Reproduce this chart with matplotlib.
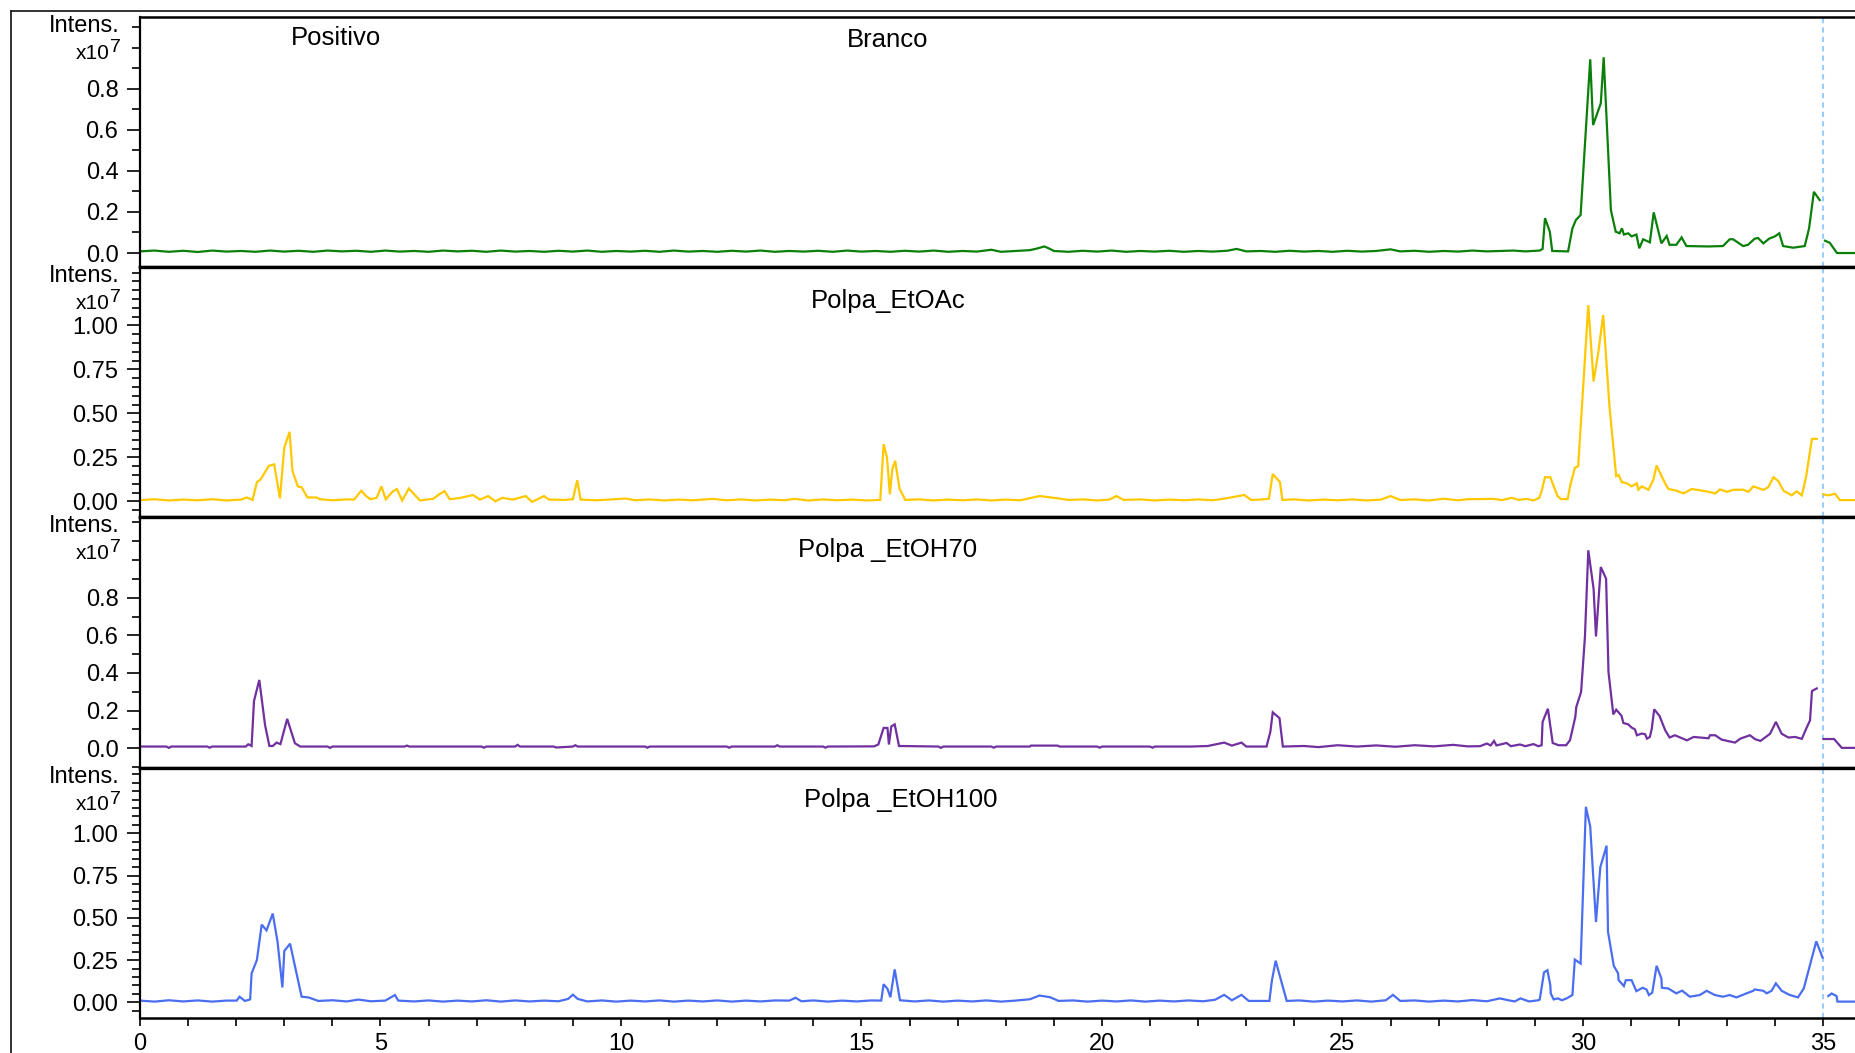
import matplotlib
matplotlib.use('Agg')
import matplotlib.pyplot as plt
import numpy as np
from matplotlib.ticker import FixedLocator, MultipleLocator
from matplotlib.lines import Line2D

plt.rcParams['font.family'] = ['Liberation Sans', 'DejaVu Sans']

nan = np.nan

# (time [min], intensity [x1e7])
branco_pts = [
    (0.0, 0.008), (0.3, 0.012), (0.6, 0.006), (0.9, 0.011), (1.2, 0.005), (1.5, 0.012),
    (1.8, 0.007), (2.1, 0.010), (2.4, 0.006), (2.7, 0.012), (3.0, 0.007), (3.3, 0.011),
    (3.6, 0.006), (3.9, 0.012), (4.2, 0.008), (4.5, 0.011), (4.8, 0.006), (5.1, 0.012),
    (5.4, 0.007), (5.7, 0.010), (6.0, 0.006), (6.3, 0.012), (6.6, 0.008), (6.9, 0.011),
    (7.2, 0.006), (7.5, 0.012), (7.8, 0.007), (8.1, 0.010), (8.4, 0.006), (8.7, 0.011),
    (9.0, 0.007), (9.3, 0.012), (9.6, 0.006), (9.9, 0.010), (10.2, 0.007), (10.5, 0.011),
    (10.8, 0.006), (11.1, 0.012), (11.4, 0.007), (11.7, 0.010), (12.0, 0.006), (12.3, 0.011),
    (12.6, 0.007), (12.9, 0.012), (13.2, 0.006), (13.5, 0.010), (13.8, 0.007), (14.1, 0.011),
    (14.4, 0.006), (14.7, 0.012), (15.0, 0.007), (15.3, 0.010), (15.6, 0.006), (15.9, 0.011),
    (16.2, 0.007), (16.5, 0.012), (16.8, 0.006), (17.1, 0.010), (17.4, 0.007), (17.7, 0.016),
    (17.9, 0.006), (18.2, 0.010), (18.5, 0.014), (18.65, 0.022), (18.8, 0.032), (18.9, 0.022),
    (19.0, 0.010), (19.3, 0.006), (19.6, 0.011), (19.9, 0.007), (20.2, 0.012), (20.5, 0.006),
    (20.8, 0.010), (21.1, 0.007), (21.4, 0.011), (21.7, 0.006), (22.0, 0.010), (22.3, 0.007),
    (22.6, 0.011), (22.8, 0.020), (23.0, 0.008), (23.3, 0.010), (23.6, 0.006), (23.9, 0.011),
    (24.2, 0.007), (24.5, 0.010), (24.8, 0.006), (25.1, 0.011), (25.4, 0.007), (25.7, 0.010),
    (26.0, 0.018), (26.2, 0.008), (26.5, 0.011), (26.8, 0.006), (27.1, 0.010), (27.4, 0.007),
    (27.7, 0.012), (28.0, 0.008), (28.27, 0.010), (28.55, 0.012), (28.8, 0.008), (29.10, 0.012),
    (29.16, 0.020), (29.21, 0.170), (29.31, 0.104), (29.36, 0.010), (29.69, 0.008), (29.78, 0.120),
    (29.85, 0.160), (29.95, 0.185), (30.15, 0.943), (30.21, 0.623), (30.37, 0.729), (30.43, 0.953),
    (30.58, 0.209), (30.68, 0.104), (30.76, 0.096), (30.81, 0.120), (30.85, 0.090), (30.94, 0.096),
    (31.01, 0.081), (31.11, 0.090), (31.17, 0.023), (31.25, 0.067), (31.39, 0.052), (31.47, 0.198),
    (31.56, 0.112), (31.63, 0.047), (31.74, 0.083), (31.80, 0.040), (31.94, 0.040), (32.05, 0.076),
    (32.15, 0.034), (32.60, 0.032), (32.91, 0.034), (33.05, 0.067), (33.12, 0.067), (33.33, 0.034),
    (33.43, 0.040), (33.57, 0.070), (33.64, 0.073), (33.75, 0.047), (33.87, 0.070), (33.99, 0.081),
    (34.08, 0.096), (34.16, 0.034), (34.37, 0.026), (34.61, 0.034), (34.70, 0.120), (34.80, 0.298),
    (34.92, 0.258), (nan, nan), (35.03, 0.060), (35.13, 0.050), (35.28, 0.000), (36.0, 0.000),
]

etoac_pts = [
    (0.0, 0.007), (0.3, 0.012), (0.6, 0.005), (0.9, 0.010), (1.2, 0.006), (1.5, 0.012),
    (1.8, 0.005), (2.1, 0.010), (2.22, 0.022), (2.34, 0.008), (2.43, 0.108), (2.51, 0.126),
    (2.68, 0.202), (2.79, 0.210), (2.91, 0.017), (3.00, 0.306), (3.11, 0.395), (3.17, 0.173),
    (3.28, 0.085), (3.36, 0.080), (3.48, 0.022), (3.67, 0.022), (3.74, 0.012), (4.0, 0.006),
    (4.3, 0.011), (4.45, 0.010), (4.60, 0.060), (4.70, 0.030), (4.79, 0.012), (4.92, 0.020),
    (5.02, 0.085), (5.11, 0.012), (5.25, 0.055), (5.34, 0.070), (5.45, 0.005), (5.59, 0.073),
    (5.82, 0.005), (6.10, 0.015), (6.22, 0.040), (6.33, 0.058), (6.44, 0.012), (6.67, 0.020),
    (6.92, 0.036), (7.07, 0.010), (7.24, 0.030), (7.39, 0.000), (7.53, 0.020), (7.75, 0.010),
    (8.02, 0.030), (8.15, -0.003), (8.40, 0.030), (8.50, 0.010), (8.8, 0.008), (9.0, 0.012),
    (9.09, 0.120), (9.16, 0.010), (9.5, 0.006), (9.8, 0.011), (10.1, 0.016), (10.3, 0.006),
    (10.6, 0.011), (10.9, 0.005), (11.2, 0.010), (11.5, 0.006), (11.9, 0.014), (12.2, 0.006),
    (12.5, 0.011), (12.8, 0.005), (13.1, 0.010), (13.4, 0.006), (13.6, 0.014), (13.9, 0.005),
    (14.2, 0.011), (14.5, 0.006), (14.8, 0.010), (15.1, 0.005), (15.39, 0.008), (15.46, 0.325),
    (15.53, 0.249), (15.59, 0.040), (15.64, 0.183), (15.70, 0.230), (15.79, 0.073), (15.91, 0.008),
    (16.2, 0.011), (16.5, 0.005), (16.8, 0.010), (17.1, 0.006), (17.4, 0.011), (17.7, 0.005),
    (18.0, 0.010), (18.3, 0.006), (18.5, 0.018), (18.7, 0.030), (19.0, 0.020), (19.3, 0.008),
    (19.6, 0.011), (19.9, 0.005), (20.15, 0.010), (20.3, 0.030), (20.45, 0.008), (20.8, 0.011),
    (21.1, 0.005), (21.4, 0.010), (21.7, 0.006), (22.0, 0.011), (22.3, 0.006), (22.6, 0.018),
    (22.96, 0.036), (23.1, 0.008), (23.3, 0.010), (23.47, 0.015), (23.55, 0.155), (23.70, 0.109),
    (23.75, 0.008), (24.0, 0.011), (24.3, 0.005), (24.6, 0.010), (24.9, 0.006), (25.2, 0.011),
    (25.5, 0.005), (25.8, 0.010), (26.0, 0.030), (26.2, 0.008), (26.5, 0.011), (26.8, 0.005),
    (27.1, 0.015), (27.4, 0.006), (27.6, 0.012), (27.86, 0.013), (28.14, 0.014), (28.31, 0.007),
    (28.52, 0.020), (28.66, 0.008), (28.83, 0.014), (28.97, 0.005), (29.09, 0.020), (29.14, 0.058),
    (29.21, 0.137), (29.32, 0.137), (29.47, 0.030), (29.54, 0.013), (29.68, 0.013), (29.74, 0.096),
    (29.83, 0.190), (29.90, 0.200), (30.11, 1.115), (30.22, 0.681), (30.32, 0.851), (30.42, 1.059),
    (30.55, 0.540), (30.69, 0.143), (30.74, 0.150), (30.81, 0.108), (30.91, 0.103), (31.01, 0.085),
    (31.12, 0.103), (31.15, 0.066), (31.22, 0.085), (31.36, 0.066), (31.46, 0.120), (31.53, 0.204),
    (31.64, 0.140), (31.74, 0.085), (31.78, 0.070), (31.95, 0.060), (32.09, 0.045), (32.26, 0.070),
    (32.43, 0.063), (32.61, 0.054), (32.75, 0.045), (32.85, 0.068), (32.99, 0.054), (33.13, 0.066),
    (33.33, 0.066), (33.44, 0.054), (33.54, 0.085), (33.75, 0.065), (33.85, 0.080), (33.96, 0.137),
    (34.06, 0.115), (34.17, 0.060), (34.34, 0.034), (34.44, 0.057), (34.55, 0.034), (34.64, 0.143),
    (34.76, 0.355), (34.86, 0.355), (nan, nan), (35.0, 0.040), (35.1, 0.034), (35.24, 0.043),
    (35.34, 0.007), (36.0, 0.007),
]

etoh70_pts = [
    (0.0, 0.009), (0.55, 0.009), (0.6, 0.002), (0.65, 0.009), (1.4, 0.009), (1.45, 0.003),
    (1.5, 0.009), (2.2, 0.009), (2.25, 0.021), (2.32, 0.012), (2.37, 0.251), (2.48, 0.363),
    (2.60, 0.123), (2.69, 0.012), (2.76, 0.012), (2.84, 0.030), (2.92, 0.022), (3.06, 0.156),
    (3.22, 0.027), (3.33, 0.009), (3.9, 0.009), (3.95, 0.002), (4.0, 0.009), (5.5, 0.009),
    (5.55, 0.014), (5.6, 0.009), (7.1, 0.009), (7.15, 0.003), (7.2, 0.009), (7.8, 0.009),
    (7.85, 0.018), (7.9, 0.009), (8.6, 0.009), (8.65, 0.004), (9.0, 0.009), (9.05, 0.016),
    (9.1, 0.009), (10.5, 0.009), (10.55, 0.003), (10.6, 0.009), (12.2, 0.009), (12.25, 0.003),
    (12.3, 0.009), (13.2, 0.009), (13.25, 0.016), (13.3, 0.009), (14.2, 0.009), (14.25, 0.003),
    (14.3, 0.009), (15.26, 0.010), (15.35, 0.020), (15.46, 0.108), (15.54, 0.108), (15.57, 0.020),
    (15.62, 0.116), (15.69, 0.127), (15.78, 0.012), (16.6, 0.009), (16.65, 0.002), (16.7, 0.009),
    (17.7, 0.009), (17.75, 0.003), (17.8, 0.009), (18.50, 0.009), (18.52, 0.014), (19.08, 0.014),
    (19.12, 0.009), (19.9, 0.009), (19.95, 0.003), (20.0, 0.009), (21.0, 0.009), (21.05, 0.003),
    (21.1, 0.009), (21.86, 0.009), (22.2, 0.012), (22.54, 0.030), (22.7, 0.014), (22.90, 0.030),
    (23.0, 0.009), (23.42, 0.009), (23.50, 0.087), (23.55, 0.191), (23.69, 0.160), (23.76, 0.009),
    (24.2, 0.012), (24.5, 0.006), (24.9, 0.016), (25.3, 0.009), (25.7, 0.015), (26.1, 0.008),
    (26.5, 0.016), (26.9, 0.010), (27.3, 0.018), (27.6, 0.010), (27.86, 0.011), (28.0, 0.025),
    (28.08, 0.015), (28.15, 0.039), (28.2, 0.015), (28.41, 0.028), (28.5, 0.011), (28.69, 0.020),
    (28.8, 0.011), (28.97, 0.022), (29.07, 0.011), (29.14, 0.016), (29.16, 0.140), (29.27, 0.210),
    (29.37, 0.028), (29.49, 0.016), (29.65, 0.016), (29.73, 0.043), (29.77, 0.087), (29.84, 0.166),
    (29.86, 0.219), (29.96, 0.299), (30.04, 0.591), (30.11, 1.052), (30.22, 0.848), (30.27, 0.594),
    (30.37, 0.963), (30.48, 0.901), (30.53, 0.405), (30.63, 0.180), (30.69, 0.205), (30.80, 0.173),
    (30.84, 0.134), (30.94, 0.127), (31.01, 0.110), (31.08, 0.100), (31.12, 0.069), (31.22, 0.078),
    (31.29, 0.075), (31.33, 0.051), (31.39, 0.060), (31.43, 0.104), (31.48, 0.207), (31.59, 0.172),
    (31.71, 0.095), (31.80, 0.057), (31.91, 0.069), (32.16, 0.042), (32.30, 0.060), (32.43, 0.057),
    (32.61, 0.053), (32.64, 0.069), (32.75, 0.069), (32.88, 0.046), (33.16, 0.030), (33.27, 0.051),
    (33.47, 0.069), (33.58, 0.048), (33.69, 0.039), (33.89, 0.077), (34.01, 0.140), (34.13, 0.077),
    (34.27, 0.057), (34.41, 0.060), (34.55, 0.050), (34.64, 0.104), (34.72, 0.148), (34.76, 0.304),
    (34.86, 0.318), (nan, nan), (35.0, 0.049), (35.22, 0.049), (35.38, 0.002), (36.0, 0.002),
]

etoh100_pts = [
    (0.0, 0.010), (0.3, 0.004), (0.6, 0.012), (0.9, 0.005), (1.2, 0.011), (1.5, 0.004),
    (1.8, 0.010), (2.01, 0.010), (2.07, 0.033), (2.18, 0.008), (2.29, 0.017), (2.32, 0.171),
    (2.43, 0.250), (2.53, 0.460), (2.63, 0.426), (2.76, 0.525), (2.86, 0.357), (2.96, 0.088),
    (3.00, 0.304), (3.12, 0.347), (3.36, 0.033), (3.50, 0.029), (3.71, 0.008), (4.0, 0.012),
    (4.3, 0.005), (4.54, 0.016), (4.8, 0.006), (5.1, 0.010), (5.30, 0.043), (5.37, 0.010),
    (5.7, 0.005), (6.0, 0.011), (6.3, 0.004), (6.6, 0.010), (6.9, 0.005), (7.2, 0.012),
    (7.5, 0.004), (7.8, 0.011), (8.1, 0.005), (8.4, 0.010), (8.7, 0.006), (8.9, 0.020),
    (9.0, 0.045), (9.1, 0.020), (9.3, 0.005), (9.6, 0.011), (9.9, 0.004), (10.2, 0.010),
    (10.5, 0.005), (10.8, 0.011), (11.1, 0.004), (11.4, 0.010), (11.7, 0.005), (12.0, 0.011),
    (12.3, 0.004), (12.6, 0.010), (12.9, 0.005), (13.2, 0.011), (13.5, 0.010), (13.63, 0.027),
    (13.75, 0.006), (14.0, 0.011), (14.3, 0.004), (14.6, 0.010), (14.9, 0.005), (15.2, 0.011),
    (15.41, 0.010), (15.46, 0.107), (15.54, 0.080), (15.60, 0.030), (15.69, 0.195), (15.80, 0.012),
    (16.1, 0.005), (16.4, 0.011), (16.7, 0.004), (17.0, 0.010), (17.3, 0.005), (17.6, 0.011),
    (17.9, 0.004), (18.2, 0.010), (18.5, 0.018), (18.7, 0.040), (18.92, 0.030), (19.1, 0.008),
    (19.4, 0.011), (19.7, 0.004), (20.0, 0.010), (20.3, 0.005), (20.6, 0.011), (20.9, 0.004),
    (21.2, 0.010), (21.5, 0.005), (21.8, 0.011), (22.1, 0.006), (22.35, 0.015), (22.54, 0.044),
    (22.70, 0.012), (22.90, 0.044), (23.05, 0.008), (23.48, 0.008), (23.53, 0.125), (23.61, 0.246),
    (23.84, 0.008), (24.1, 0.011), (24.4, 0.004), (24.7, 0.010), (25.0, 0.005), (25.3, 0.011),
    (25.6, 0.004), (25.9, 0.012), (26.05, 0.044), (26.2, 0.008), (26.5, 0.011), (26.8, 0.004),
    (27.1, 0.010), (27.4, 0.005), (27.7, 0.013), (28.0, 0.006), (28.27, 0.023), (28.45, 0.012),
    (28.58, 0.005), (28.7, 0.023), (28.88, 0.005), (29.07, 0.012), (29.10, 0.016), (29.19, 0.177),
    (29.26, 0.190), (29.32, 0.102), (29.33, 0.052), (29.39, 0.017), (29.48, 0.023), (29.56, 0.012),
    (29.66, 0.023), (29.78, 0.043), (29.83, 0.253), (29.95, 0.229), (30.06, 1.157), (30.15, 1.040),
    (30.27, 0.475), (30.36, 0.800), (30.49, 0.927), (30.52, 0.417), (30.64, 0.216), (30.73, 0.171),
    (30.74, 0.131), (30.85, 0.096), (30.89, 0.131), (31.01, 0.131), (31.11, 0.066), (31.24, 0.086),
    (31.32, 0.076), (31.37, 0.043), (31.44, 0.057), (31.53, 0.216), (31.63, 0.141), (31.64, 0.086),
    (31.77, 0.082), (31.94, 0.053), (32.06, 0.069), (32.22, 0.033), (32.43, 0.043), (32.57, 0.068),
    (32.74, 0.043), (32.91, 0.033), (33.05, 0.043), (33.19, 0.029), (33.40, 0.053), (33.54, 0.068),
    (33.57, 0.076), (33.75, 0.068), (33.82, 0.053), (33.92, 0.068), (34.01, 0.112), (34.13, 0.068),
    (34.30, 0.043), (34.47, 0.029), (34.59, 0.082), (34.71, 0.210), (34.85, 0.361), (34.98, 0.265),
    (nan, nan), (35.10, 0.037), (35.17, 0.052), (35.27, 0.037), (35.29, 0.004), (36.0, 0.004),
]

panel_names = ['Branco', 'Polpa_EtOAc', 'Polpa _EtOH70', 'Polpa _EtOH100']
panel_colors = ['#0a800a', '#ffc800', '#7030a0', '#4a6ef0']
panel_data = [branco_pts, etoac_pts, etoh70_pts, etoh100_pts]
ylims = [(-0.068, 1.149), (-0.089, 1.332), (-0.105, 1.229), (-0.093, 1.387)]
ymajor = [[0, 0.2, 0.4, 0.6, 0.8], [0, 0.25, 0.5, 0.75, 1.0],
          [0, 0.2, 0.4, 0.6, 0.8], [0, 0.25, 0.5, 0.75, 1.0]]
yminor_step = [0.1, 0.05, 0.1, 0.05]
ylabel_fmt = ['%.1f', '%.2f', '%.1f', '%.2f']
x_ticks = [0, 5, 10, 15, 20, 25, 30, 35]

W, H = 1856, 1053
fig = plt.figure(figsize=(W / 100, H / 100), dpi=100)

# panel geometry in pixels (top, bottom)
rows = [(17, 267), (267, 517), (517, 768), (768, 1018)]
left_px, right_px = 140, 1870
px_per_min = 48.1
titles_px = [(888, 40), (888, 301), (888, 550), (901, 800)]

axes = []
for i, (top, bot) in enumerate(rows):
    ax = fig.add_axes([left_px / W, 1 - bot / H, (right_px - left_px) / W, (bot - top) / H])
    pts = np.array(panel_data[i], dtype=float)
    ax.plot(pts[:, 0], pts[:, 1], color=panel_colors[i], lw=1.6, solid_joinstyle='miter')
    ax.set_xlim(0, (right_px - left_px) / px_per_min)
    ax.set_ylim(*ylims[i])
    ax.axvline(35, color='#99ccff', lw=1.5, ls=(0, (2.5, 2)), zorder=0)

    ax.yaxis.set_major_locator(FixedLocator(ymajor[i]))
    ax.set_yticklabels([ylabel_fmt[i] % v for v in ymajor[i]])
    ax.yaxis.set_minor_locator(MultipleLocator(yminor_step[i]))
    ax.tick_params(axis='y', which='major', direction='out', length=9.5, width=1.2,
                   labelsize=17, pad=6)
    ax.tick_params(axis='y', which='minor', direction='out', length=6, width=1.2)

    ax.spines['right'].set_visible(False)
    ax.spines['left'].set_linewidth(1.6)
    ax.spines['top'].set_linewidth(2.4)
    ax.spines['bottom'].set_linewidth(2.4)

    if i < 3:
        ax.tick_params(axis='x', which='both', bottom=False, labelbottom=False)
    else:
        ax.set_xticks(x_ticks)
        ax.xaxis.set_minor_locator(MultipleLocator(1))
        ax.tick_params(axis='x', which='both', direction='out', length=6, width=1.2,
                       labelsize=17, pad=5)
        ax.spines['bottom'].set_linewidth(1.8)

    # "Intens." and "x10^7" labels above the y ticks
    fig.text(120 / W, 1 - (top + 15) / H, 'Intens.', ha='right', va='baseline', fontsize=17)
    fig.text(110 / W, 1 - (top + 42) / H, 'x10', ha='right', va='baseline', fontsize=15)
    fig.text(110 / W, 1 - (top + 35.5) / H, '7', ha='left', va='baseline', fontsize=14)
    tx, ty = titles_px[i]
    fig.text(tx / W, 1 - ty / H, panel_names[i], ha='center', va='center', fontsize=18.5)
    axes.append(ax)

axes[0].spines['top'].set_linewidth(1.8)
fig.text(336 / W, 1 - 38 / H, 'Positivo', ha='center', va='center', fontsize=18.5)

# outer frame
fig.add_artist(Line2D([11 / W, 11 / W], [0, 1 - 11 / H], color='#222222', lw=1.3))
fig.add_artist(Line2D([11 / W, 1], [1 - 11 / H, 1 - 11 / H], color='#222222', lw=1.3))

fig.savefig('out.png', dpi=100, facecolor='white')
